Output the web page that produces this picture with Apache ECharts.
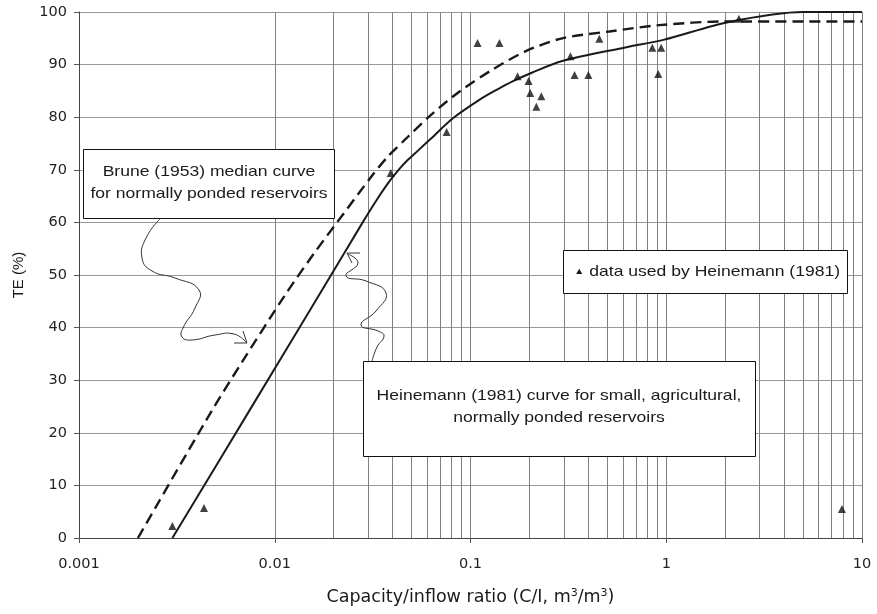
<!DOCTYPE html>
<html>
<head>
<meta charset="utf-8">
<script src="https://cdn.jsdelivr.net/npm/echarts@6/dist/echarts.min.js"></script>
<style>html,body{margin:0;padding:0;background:#fff;}#c{width:877px;height:614px;}</style>
</head>
<body>
<div id="c"></div>
<script>
// ---- data ----
const xTickValues = [0.001, 0.01, 0.1, 1, 10];
const xTickLabels = ['0.001', '0.01', '0.1', '1', '10'];

const bruneX = [0.002, 0.0047, 0.0069, 0.0112, 0.0158, 0.0224, 0.0316, 0.038, 0.0471, 0.0618, 0.088, 0.129, 0.193, 0.294, 0.512, 0.92, 2.02, 10];
const bruneY = [0, 23.8, 33.8, 46.0, 54.0, 61.6, 69.0, 72.6, 76.0, 80.2, 84.9, 89, 92.6, 95, 96.3, 97.5, 98.2, 98.2];

const heinX = [0.003, 0.0075, 0.02, 0.0272, 0.0331, 0.038, 0.0427, 0.0479, 0.0537, 0.0631, 0.0813, 0.111, 0.136, 0.164, 0.207, 0.294, 0.625, 0.966, 2.09, 5.0, 10];
const heinY = [0, 24.5, 50.8, 59.1, 64.2, 67.5, 69.9, 71.9, 73.6, 76.0, 79.8, 83.3, 85.2, 86.8, 88.5, 90.7, 93.3, 94.7, 98.1, 100, 100];

const ptX = [0.003, 0.00435, 0.0391, 0.0755, 0.1087, 0.1405, 0.174, 0.198, 0.202, 0.217, 0.23, 0.324, 0.34, 0.40, 0.455, 0.849, 0.91, 0.942, 1.265, 2.35, 7.9];
const ptY = [2.3, 5.7, 69.4, 77.2, 94.1, 94.1, 87.8, 86.9, 84.6, 82, 84, 91.6, 88, 88, 94.9, 93.2, 88.2, 93.2, 100.2, 98.7, 5.5];

// minor log grid lines (2..9 x 10^k)
const minorGrid = [];
[0.001, 0.01, 0.1, 1].forEach(function (d) {
  for (let m = 2; m <= 9; m++) minorGrid.push({ xAxis: +(m * d).toPrecision(3) });
});

const zip = (a, b) => a.map((v, i) => [v, b[i]]);
const FONT = '"Liberation Sans", Arial, sans-serif';
const TICKFONT = '"DejaVu Sans", sans-serif';
const TXT = '#1a1a1a';
const SX = 1.17;

const chart = echarts.init(document.getElementById('c'), null, { renderer: 'canvas' });

function labelFor(v) {
  for (let i = 0; i < xTickValues.length; i++) {
    if (Math.abs(Math.log10(v) - Math.log10(xTickValues[i])) < 1e-6) return xTickLabels[i];
  }
  return '';
}

function note(x, y, text, extra) {
  return Object.assign({ type: 'text', z: 101, x: x, y: y, scaleX: SX,
    style: { text: text, font: '15px ' + FONT, fill: TXT, align: 'center', verticalAlign: 'middle' } }, extra || {});
}

const option = {
  animation: false,
  backgroundColor: '#fff',
  grid: { left: 79, right: 15, top: 12, bottom: 76, containLabel: false },
  xAxis: {
    type: 'log', logBase: 10, min: 0.001, max: 10,
    name: 'Capacity/inflow ratio (C/I, m{sup|3}/m{sup|3})',
    nameLocation: 'middle', nameGap: 50,
    nameTextStyle: {
      fontFamily: TICKFONT, fontSize: 17.5, color: TXT,
      rich: { sup: { fontSize: 11, verticalAlign: 'top', padding: [0, 0, 8, 0], fontFamily: TICKFONT, color: TXT } }
    },
    axisLine: { show: true, lineStyle: { color: '#444', width: 1 } },
    axisTick: { show: true, length: 5, lineStyle: { color: '#555' } },
    axisLabel: { fontFamily: TICKFONT, fontSize: 14.5, color: '#222', margin: 19, formatter: labelFor },
    splitLine: { show: true, lineStyle: { color: '#808080', width: 1 } }
  },
  yAxis: {
    type: 'value', min: 0, max: 100, interval: 10,
    name: 'TE (%)', nameLocation: 'middle', nameGap: 53, nameRotate: 90,
    nameTextStyle: { fontFamily: FONT, fontSize: 15, color: TXT },
    axisLine: { show: true, lineStyle: { color: '#444', width: 1 } },
    axisTick: { show: true, length: 5, lineStyle: { color: '#555' } },
    axisLabel: { fontFamily: TICKFONT, fontSize: 14.5, color: '#222', margin: 12 },
    splitLine: { show: true, lineStyle: { color: '#9a9a9a', width: 1 } }
  },
  series: [
    {
      type: 'line', data: [], silent: true, z: 1,
      markLine: {
        silent: true, symbol: ['none', 'none'], label: { show: false },
        lineStyle: { color: '#808080', width: 1, type: 'solid' },
        emphasis: { disabled: true },
        data: minorGrid
      }
    },
    {
      name: 'Brune (1953)', type: 'line', data: zip(bruneX, bruneY),
      smooth: 0.3, showSymbol: false, z: 5,
      lineStyle: { color: '#1a1a1a', width: 2.4, type: [11, 6] }
    },
    {
      name: 'Heinemann (1981)', type: 'line', data: zip(heinX, heinY),
      smooth: 0.3, showSymbol: false, z: 5,
      lineStyle: { color: '#1a1a1a', width: 2 }
    },
    {
      name: 'data', type: 'scatter', data: zip(ptX, ptY),
      symbol: 'triangle', symbolSize: 8, z: 6,
      itemStyle: { color: '#111' }
    }
  ],
  graphic: [
    // Brune annotation box
    { type: 'rect', z: 100, shape: { x: 83.5, y: 149.5, width: 251, height: 69 },
      style: { fill: '#fff', stroke: '#111', lineWidth: 1 } },
    note(209, 172, 'Brune (1953) median curve'),
    note(209, 194, 'for normally ponded reservoirs'),
    // legend box
    { type: 'rect', z: 100, shape: { x: 563.5, y: 250.5, width: 284, height: 43 },
      style: { fill: '#fff', stroke: '#111', lineWidth: 1 } },
    note(707, 272, '', {
      style: { text: '{t|▲} data used by Heinemann (1981)', font: '15px ' + FONT, fill: TXT, align: 'center', verticalAlign: 'middle',
        rich: { t: { fontSize: 9, fill: TXT, fontFamily: FONT } } } }),
    // Heinemann annotation box
    { type: 'rect', z: 100, shape: { x: 363.5, y: 361.5, width: 392, height: 95 },
      style: { fill: '#fff', stroke: '#111', lineWidth: 1 } },
    note(559, 396, 'Heinemann (1981) curve for small, agricultural,'),
    note(559, 418, 'normally ponded reservoirs'),
    // Brune wavy pointer
    { type: 'polyline', z: 99, shape: { smooth: 0.5, points: [[160,219],[146,238],[142,258],[152,271],[175,278],[199,290],[195,308],[183,328],[182,337],[192,340],[215,335],[234,334],[246,342]] },
      style: { stroke: '#333', lineWidth: 1, fill: null } },
    { type: 'polyline', z: 99, shape: { points: [[234,343],[247,343],[243,331]] },
      style: { stroke: '#333', lineWidth: 1, fill: null } },
    // Heinemann wavy pointer
    { type: 'polyline', z: 99, shape: { smooth: 0.5, points: [[348,254],[358,263],[346,276],[366,281],[386,293],[376,311],[361,325],[378,331],[384,336],[377,347],[372,361]] },
      style: { stroke: '#333', lineWidth: 1, fill: null } },
    { type: 'polyline', z: 99, shape: { points: [[360,253],[347,253],[352,263]] },
      style: { stroke: '#333', lineWidth: 1, fill: null } }
  ]
};
chart.setOption(option);
</script>
</body>
</html>
